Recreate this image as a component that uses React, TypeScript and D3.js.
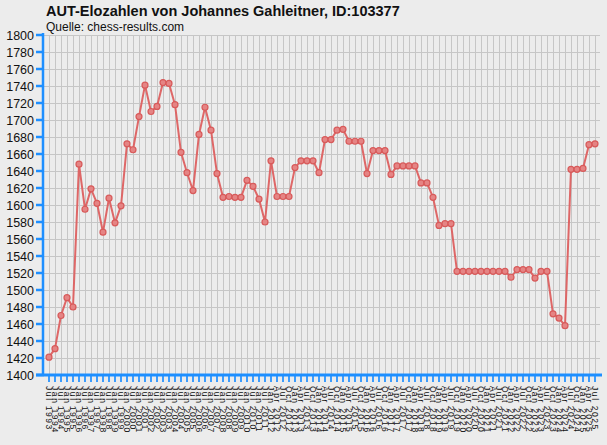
import { useEffect, useRef } from 'react'
import * as d3 from 'd3'

const W = 607
const H = 445
const MARGIN = { top: 35, right: 7, bottom: 70, left: 44 }

const TITLE = 'AUT-Elozahlen von Johannes Gahleitner, ID:103377'
const SUBTITLE = 'Quelle: chess-results.com'

// rating list dates (half-yearly, then quarterly from Apr 2012)
const DATES = [
  'Jul 1993', 'Jan 1994', 'Jul 1994', 'Jan 1995', 'Jul 1995', 'Jan 1996', 'Jul 1996', 'Jan 1997',
  'Jul 1997', 'Jan 1998', 'Jul 1998', 'Jan 1999', 'Jul 1999', 'Jan 2000', 'Jul 2000', 'Jan 2001',
  'Jul 2001', 'Jan 2002', 'Jul 2002', 'Jan 2003', 'Jul 2003', 'Jan 2004', 'Jul 2004', 'Jan 2005',
  'Jul 2005', 'Jan 2006', 'Jul 2006', 'Jan 2007', 'Jul 2007', 'Jan 2008', 'Jul 2008', 'Jan 2009',
  'Jul 2009', 'Jan 2010', 'Jul 2010', 'Jan 2011', 'Jul 2011', 'Jan 2012',
  'Apr 2012', 'Jul 2012', 'Oct 2012', 'Jan 2013', 'Apr 2013', 'Jul 2013', 'Oct 2013',
  'Jan 2014', 'Apr 2014', 'Jul 2014', 'Oct 2014', 'Jan 2015', 'Apr 2015', 'Jul 2015', 'Oct 2015',
  'Jan 2016', 'Apr 2016', 'Jul 2016', 'Oct 2016', 'Jan 2017', 'Apr 2017', 'Jul 2017', 'Oct 2017',
  'Jan 2018', 'Apr 2018', 'Jul 2018', 'Oct 2018', 'Jan 2019', 'Apr 2019', 'Jul 2019', 'Oct 2019',
  'Jan 2020', 'Apr 2020', 'Jul 2020', 'Oct 2020', 'Jan 2021', 'Apr 2021', 'Jul 2021', 'Oct 2021',
  'Jan 2022', 'Apr 2022', 'Jul 2022', 'Oct 2022', 'Jan 2023', 'Apr 2023', 'Jul 2023', 'Oct 2023',
  'Jan 2024', 'Apr 2024', 'Jul 2024', 'Oct 2024', 'Jan 2025', 'Apr 2025', 'Jul 2025',
]

const ELO = [
  1421, 1431, 1470, 1491, 1480, 1648, 1595, 1619, 1602, 1568, 1608, 1579, 1599, 1672, 1665, 1704,
  1741, 1710, 1716, 1744, 1743, 1718, 1662, 1638, 1617, 1683, 1715, 1688, 1637, 1609, 1610, 1609,
  1609, 1629, 1622, 1607, 1580, 1652, 1610, 1610, 1610, 1644, 1652, 1652, 1652, 1638, 1677, 1677,
  1688, 1689, 1675, 1675, 1675, 1637, 1664, 1664, 1664, 1636, 1646, 1646, 1646, 1646, 1626, 1626,
  1609, 1576, 1578, 1578, 1522, 1522, 1522, 1522, 1522, 1522, 1522, 1522, 1522, 1515, 1524, 1524,
  1524, 1514, 1522, 1522, 1472, 1467, 1458, 1642, 1642, 1643, 1671, 1672,
]

const Y_DOMAIN = [1400, 1800]
const Y_TICKS = d3.range(1400, 1801, 20)

const BG = '#ececec'
const GRID = '#c6c6c6'
const AXIS = '#1e8fff'
const LINE = '#dd6060'
const FONT = '"Liberation Sans", Arial, sans-serif'

export default function App() {
  const svgRef = useRef<SVGSVGElement>(null)

  useEffect(() => {
    const svg = d3.select(svgRef.current)
    svg.selectAll('*').remove()

    const x0 = MARGIN.left
    const x1 = W - MARGIN.right
    const y0 = H - MARGIN.bottom
    const y1 = MARGIN.top

    const x = d3.scalePoint<string>().domain(DATES).range([x0, x1]).padding(0.8333)
    const y = d3.scaleLinear(Y_DOMAIN, [y0, y1])

    svg.append('rect').attr('width', W).attr('height', H).attr('fill', BG)

    // ── Title ─────────────────────────────────────────────────────────────────
    svg.append('text')
      .attr('x', 46).attr('y', 16)
      .attr('font-family', FONT).attr('font-size', 14.5).attr('font-weight', 'bold')
      .attr('fill', '#111')
      .text(TITLE)
    svg.append('text')
      .attr('x', 46).attr('y', 31)
      .attr('font-family', FONT).attr('font-size', 12).attr('fill', '#111')
      .text(SUBTITLE)

    // ── Grid ──────────────────────────────────────────────────────────────────
    const grid = svg.append('g').attr('shape-rendering', 'crispEdges')
    Y_TICKS.forEach(t => {
      grid.append('line')
        .attr('x1', x0).attr('x2', x1).attr('y1', Math.round(y(t)) + 0.5).attr('y2', Math.round(y(t)) + 0.5)
        .attr('stroke', GRID).attr('stroke-width', 1)
    })
    DATES.forEach(d => {
      grid.append('line')
        .attr('x1', Math.round(x(d)!) + 0.5).attr('x2', Math.round(x(d)!) + 0.5)
        .attr('y1', y1).attr('y2', y0)
        .attr('stroke', GRID).attr('stroke-width', 1)
    })

    // ── Axes ──────────────────────────────────────────────────────────────────
    const ax = svg.append('g')
    Y_TICKS.forEach(t => {
      ax.append('line')
        .attr('x1', x0 - 8).attr('x2', x0).attr('y1', y(t)).attr('y2', y(t))
        .attr('stroke', AXIS).attr('stroke-width', 2.5)
      ax.append('text')
        .attr('x', x0 - 10).attr('y', y(t)).attr('dy', '0.36em')
        .attr('text-anchor', 'end').attr('font-family', FONT).attr('font-size', 12.5)
        .attr('fill', '#111')
        .text(t)
    })
    ax.append('line')
      .attr('x1', x0 - 1).attr('x2', x0 - 1).attr('y1', y1 - 2).attr('y2', y0 + 1)
      .attr('stroke', AXIS).attr('stroke-width', 2.5)

    DATES.forEach(d => {
      ax.append('line')
        .attr('x1', x(d)!).attr('x2', x(d)!).attr('y1', y0).attr('y2', y0 + 7)
        .attr('stroke', AXIS).attr('stroke-width', 2).attr('opacity', 0.85)
      ax.append('text')
        .attr('transform', `translate(${x(d)},${y0 + 11}) rotate(90)`)
        .attr('dy', '0.35em')
        .attr('font-family', FONT).attr('font-size', 8.5).attr('letter-spacing', 1.6)
        .attr('fill', '#111')
        .text(d)
    })
    ax.append('line')
      .attr('x1', x0 - 8).attr('x2', W - 5).attr('y1', y0).attr('y2', y0)
      .attr('stroke', AXIS).attr('stroke-width', 3)

    // ── Line + markers ────────────────────────────────────────────────────────
    const pts = DATES.map((d, i) => [x(d)!, y(ELO[i])] as [number, number])
    svg.append('path')
      .attr('d', d3.line()(pts) ?? '')
      .attr('fill', 'none').attr('stroke', LINE).attr('stroke-width', 2)
      .attr('stroke-linejoin', 'round').attr('opacity', 0.95)

    svg.append('g').selectAll('circle').data(pts).join('circle')
      .attr('cx', p => p[0]).attr('cy', p => p[1]).attr('r', 3)
      .attr('fill', '#e58484').attr('stroke', '#d85a5a').attr('stroke-width', 1.2)
  }, [])

  return (
    <div style={{ position: 'absolute', left: 0, top: 0 }}>
      <svg ref={svgRef} width={W} height={H} style={{ display: 'block' }} />
    </div>
  )
}
